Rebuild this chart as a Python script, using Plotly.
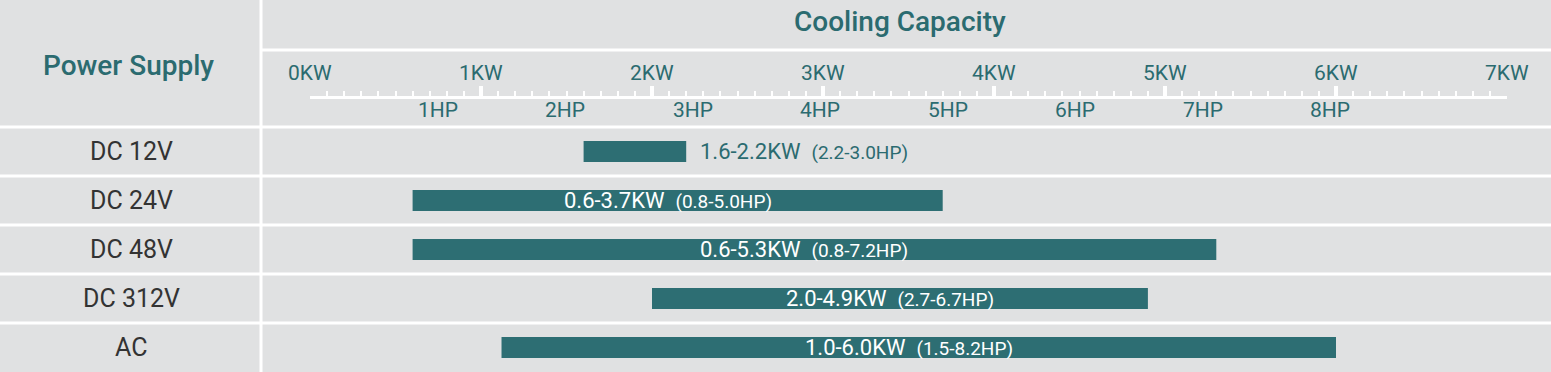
import plotly.graph_objects as go

W, H = 1551, 372

# ---- data ----
supplies = ["DC 12V", "DC 24V", "DC 48V", "DC 312V", "AC"]
kw_start = [1.6, 0.6, 0.6, 2.0, 1.12]
kw_end = [2.2, 3.7, 5.3, 4.9, 6.0]
kw_text = ["1.6-2.2KW", "0.6-3.7KW", "0.6-5.3KW", "2.0-4.9KW", "1.0-6.0KW"]
hp_text = ["(2.2-3.0HP)", "(0.8-5.0HP)", "(0.8-7.2HP)", "(2.7-6.7HP)", "(1.5-8.2HP)"]
kw_ticks = [0, 1, 2, 3, 4, 5, 6, 7]
kw_tick_labels = ["0KW", "1KW", "2KW", "3KW", "4KW", "5KW", "6KW", "7KW"]
hp_ticks = [1, 2, 3, 4, 5, 6, 7, 8]
hp_tick_labels = ["1HP", "2HP", "3HP", "4HP", "5HP", "6HP", "7HP", "8HP"]
KW_PER_HP = 0.7457

# ---- style ----
BG = "#e0e1e2"
TEAL = "#2d6e73"
TEXT_TEAL = "#2b6b70"
DARK = "#333333"
FONT = "Roboto"

X0_PX, X1_PX = 310, 1507        # ruler span in pixels
HEADER_BOTTOM = 127
ROW_H = 49
RULER_Y = 96


def py(p):
    return 1 - p / H


def px(p):
    return p / W


n = len(supplies)
rows = list(range(n))
first_center = HEADER_BOTTOM + ROW_H / 2

fig = go.Figure()
fig.add_trace(go.Bar(
    y=rows,
    x=[e - s for s, e in zip(kw_start, kw_end)],
    base=kw_start,
    orientation="h",
    width=21 / ROW_H,
    marker=dict(color=TEAL, line=dict(width=0)),
    hoverinfo="skip",
    xaxis="x", yaxis="y",
))

# invisible trace for ruler axis
fig.add_trace(go.Scatter(x=[0, 7], y=[0, 0], mode="markers",
                         marker=dict(opacity=0), hoverinfo="skip",
                         xaxis="x2", yaxis="y2", showlegend=False))

dom = [px(X0_PX), px(X1_PX)]
annotations = []


def ann(**kw):
    kw.setdefault("xanchor", "center")
    kw.setdefault("yanchor", "middle")
    kw.setdefault("showarrow", False)
    annotations.append(kw)


# header texts
ann(text="Power Supply", xref="paper", yref="paper", x=px(128), y=py(65),
    font=dict(family=FONT, size=28, color=TEXT_TEAL, weight=500))
ann(text="Cooling Capacity", xref="paper", yref="paper", x=px(900), y=py(22),
    font=dict(family=FONT, size=28, color=TEXT_TEAL, weight=500))

# ruler labels
for v, t in zip(kw_ticks, kw_tick_labels):
    ann(text=t, xref="x2", yref="paper", x=v, y=py(73),
        font=dict(family=FONT, size=21, color=TEXT_TEAL))
for v, t in zip(hp_ticks, hp_tick_labels):
    ann(text=t, xref="x2", yref="paper", x=v * KW_PER_HP, y=py(110),
        font=dict(family=FONT, size=21, color=TEXT_TEAL))

# row labels and bar labels
for i in rows:
    ann(text=supplies[i], xref="paper", yref="y", x=px(131), y=i,
        font=dict(family=FONT, size=25, color=DARK))
    label = (f"{kw_text[i]}&nbsp;&nbsp;"
             f"<span style='font-size:19px'>{hp_text[i]}</span>")
    span = kw_end[i] - kw_start[i]
    if span < 1.5:
        ann(text=label, xref="x", yref="y", x=kw_end[i], y=i,
            xanchor="left", xshift=12,
            font=dict(family=FONT, size=22, color=TEXT_TEAL))
    else:
        ann(text=label, xref="x", yref="y", x=(kw_start[i] + kw_end[i]) / 2, y=i,
            xshift=-10,
            font=dict(family=FONT, size=22, color="white"))

# white grid lines
shapes = []
LW = 3
shapes.append(dict(type="line", xref="paper", yref="paper", x0=px(261), x1=px(261),
                   y0=0, y1=1, line=dict(color="white", width=LW), layer="below"))
shapes.append(dict(type="line", xref="paper", yref="paper", x0=px(261), x1=1,
                   y0=py(50), y1=py(50), line=dict(color="white", width=LW), layer="below"))
for k in range(n):
    yy = HEADER_BOTTOM + ROW_H * k
    shapes.append(dict(type="line", xref="paper", yref="paper", x0=0, x1=1,
                       y0=py(yy), y1=py(yy), line=dict(color="white", width=LW), layer="below"))

fig.update_layout(
    width=W, height=H,
    margin=dict(l=0, r=0, t=0, b=0),
    paper_bgcolor=BG, plot_bgcolor="rgba(0,0,0,0)",
    showlegend=False,
    xaxis=dict(domain=dom, range=[0, 7], visible=False, fixedrange=True),
    yaxis=dict(domain=[0, 1],
               range=[(H - first_center) / ROW_H, (0 - first_center) / ROW_H],
               visible=False, fixedrange=True),
    xaxis2=dict(domain=dom, range=[0, 7], anchor="y2",
                showline=True, linecolor="white", linewidth=3,
                ticks="inside", ticklen=10, tickwidth=4, tickcolor="white",
                tickmode="array", tickvals=kw_ticks, showticklabels=False,
                minor=dict(ticks="inside", ticklen=5, tickwidth=2, tickcolor="white",
                           dtick=0.1, tick0=0, showgrid=False),
                showgrid=False, zeroline=False, fixedrange=True),
    yaxis2=dict(domain=[py(RULER_Y), py(RULER_Y - 20)], visible=False,
                fixedrange=True, range=[0, 1]),
    annotations=annotations,
    shapes=shapes,
)

fig.write_html("out.html")
